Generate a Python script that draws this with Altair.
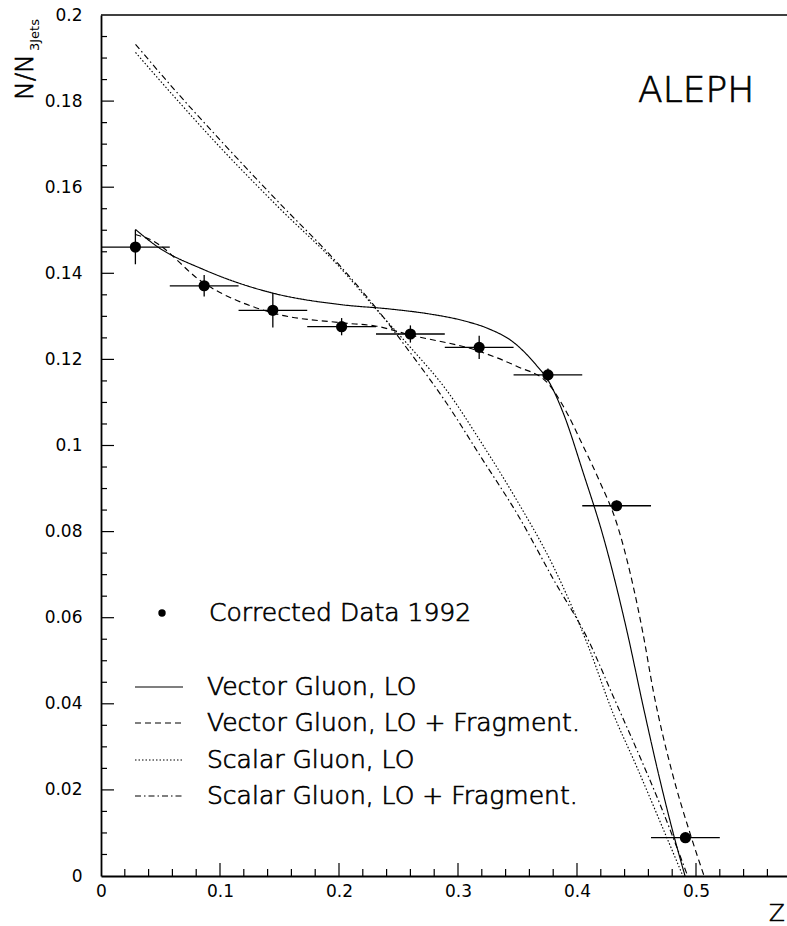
import altair as alt
import pandas as pd

# ---- measured gluon-jet energy spectrum (ALEPH 1992) ----
z_edges = [0.0, 0.0578, 0.1156, 0.1733, 0.2311, 0.2889, 0.3467, 0.4044, 0.4622, 0.52]
z_mid = [0.0289, 0.0867, 0.1444, 0.2022, 0.2600, 0.3178, 0.3756, 0.4333, 0.4911]
ratio = [0.1461, 0.1371, 0.1314, 0.1276, 0.1259, 0.1228, 0.1164, 0.0860, 0.0089]
ratio_err = [0.0040, 0.0025, 0.0040, 0.0020, 0.0020, 0.0027, 0.0015, 0.0012, 0.0008]

# ---- model predictions ----
vec_lo_z = [0.0289, 0.0468, 0.086, 0.1443, 0.2022, 0.243, 0.275, 0.3045, 0.325,
            0.3465, 0.366, 0.3754, 0.3885, 0.4053, 0.4221, 0.4418, 0.4557, 0.4697,
            0.4809, 0.4908]
vec_lo_n = [0.1502, 0.1463, 0.1409, 0.1354, 0.1327, 0.1317, 0.1306, 0.1290, 0.1272,
            0.1240, 0.1186, 0.1153, 0.1075, 0.0936, 0.0788, 0.0571, 0.0393, 0.0223,
            0.0099, 0.0]

vec_frag_z = [0.0289, 0.041, 0.086, 0.1443, 0.2022, 0.2317, 0.2597, 0.3176, 0.3493,
              0.3754, 0.3885, 0.4053, 0.4193, 0.4333, 0.445, 0.4557, 0.4641, 0.480,
              0.495, 0.5068]
vec_frag_n = [0.1490, 0.1479, 0.1378, 0.1308, 0.1285, 0.1277, 0.1257, 0.1219, 0.1184,
              0.1145, 0.1091, 0.0998, 0.0915, 0.0820, 0.0700, 0.0560, 0.0430, 0.0240,
              0.0099, 0.0]

sca_lo_z = [0.029, 0.06, 0.10, 0.15, 0.20, 0.233, 0.26, 0.29, 0.32, 0.35, 0.38,
            0.41, 0.43, 0.45, 0.47, 0.489]
sca_lo_n = [0.1913, 0.1815, 0.1693, 0.1551, 0.1416, 0.1311, 0.1228, 0.1130, 0.1005,
            0.0870, 0.0720, 0.0530, 0.0380, 0.0255, 0.0125, 0.0]

sca_frag_z = [0.029, 0.06, 0.10, 0.15, 0.20, 0.233, 0.26, 0.29, 0.32, 0.35, 0.38,
              0.41, 0.43, 0.45, 0.47, 0.493]
sca_frag_n = [0.1932, 0.1832, 0.1710, 0.1563, 0.1420, 0.1313, 0.1215, 0.1100, 0.0970,
              0.0840, 0.0690, 0.0545, 0.0420, 0.0295, 0.0165, 0.0]

series_labels = ["Vector Gluon, LO", "Vector Gluon, LO + Fragment.",
                 "Scalar Gluon, LO", "Scalar Gluon, LO + Fragment."]
data_label = "Corrected Data 1992"

x_tick_values = [0, 0.1, 0.2, 0.3, 0.4, 0.5]
y_tick_values = [0, 0.02, 0.04, 0.06, 0.08, 0.1, 0.12, 0.14, 0.16, 0.18, 0.2]

# ---- layout ----
W, H = 686, 861
FONT = "DejaVu Sans"
xs = alt.Scale(domain=[0, 686 / 1190], nice=False, zero=False)
ys = alt.Scale(domain=[0, 0.2], nice=False, zero=False)

dashes = [[1, 0], [6, 4], [1.5, 2], [6, 3, 1.5, 3]]
curves = [(vec_lo_z, vec_lo_n), (vec_frag_z, vec_frag_n),
          (sca_lo_z, sca_lo_n), (sca_frag_z, sca_frag_n)]

x_axis = alt.Axis(values=x_tick_values, format="~g", ticks=False, tickSize=0,
                  grid=False, title=None, domainColor="black", domainWidth=1.8,
                  labelFont=FONT, labelFontSize=17, labelColor="black",
                  labelPadding=7, labelFlush=False)
y_axis = alt.Axis(values=y_tick_values, format="~g", ticks=False, tickSize=0,
                  grid=False, title=None, domainColor="black", domainWidth=1.8,
                  labelFont=FONT, labelFontSize=17, labelColor="black",
                  labelPadding=19, labelFlush=False)


def X(field):
    return alt.X(field, scale=xs, axis=x_axis)


def Y(field):
    return alt.Y(field, scale=ys, axis=y_axis)


# thin-stroked text face
thin = dict(font=FONT, fontWeight=300, color="black", stroke="black")

layers = []

# axes carried by an invisible layer
axes_df = pd.DataFrame({"z": [0.0], "n": [0.0]})
layers.append(alt.Chart(axes_df).mark_point(opacity=0).encode(
    x=X("z:Q"), y=Y("n:Q")))

# inward tick marks
x_major = [0.1, 0.2, 0.3, 0.4, 0.5]
x_minor = [round(0.02 * i, 2) for i in range(1, 29) if i % 5 != 0]
y_major = [round(0.02 * i, 2) for i in range(1, 10)]
y_minor = [round(0.005 * i, 3) for i in range(1, 40) if i % 4 != 0]

for vals, ln in ((x_major, 13), (x_minor, 7)):
    layers.append(alt.Chart(pd.DataFrame({"v": vals})).mark_rule(
        color="black", strokeWidth=1.2).encode(
        x=X("v:Q"), y=alt.value(H), y2=alt.value(H - ln)))
for vals, ln in ((y_major, 13), (y_minor, 6)):
    layers.append(alt.Chart(pd.DataFrame({"v": vals})).mark_rule(
        color="black", strokeWidth=1.2).encode(
        y=Y("v:Q"), x=alt.value(0), x2=alt.value(ln)))

# top frame line
layers.append(alt.Chart(pd.DataFrame({"v": [0.2]})).mark_rule(
    color="black", strokeWidth=1.4).encode(
    y=Y("v:Q"), x=alt.value(0), x2=alt.value(W)))

# model curves
for (zz, nn), dash, lab in zip(curves, dashes, series_labels):
    df = pd.DataFrame({"z": zz, "n": nn, "model": lab})
    layers.append(alt.Chart(df).mark_line(
        color="black", strokeWidth=1.15, strokeDash=dash, interpolate="monotone").encode(
        x=X("z:Q"), y=Y("n:Q"), order=alt.Order("z:Q")))

# data with error bars
pts = pd.DataFrame({
    "z": z_mid,
    "zlo": z_edges[:-1],
    "zhi": z_edges[1:],
    "n": ratio,
    "nlo": [v - e for v, e in zip(ratio, ratio_err)],
    "nhi": [v + e for v, e in zip(ratio, ratio_err)],
})
layers.append(alt.Chart(pts).mark_rule(color="black", strokeWidth=1.3).encode(
    x=X("zlo:Q"), x2="zhi:Q", y=Y("n:Q")))
layers.append(alt.Chart(pts).mark_rule(color="black", strokeWidth=1.3).encode(
    x=X("z:Q"), y=Y("nlo:Q"), y2="nhi:Q"))
layers.append(alt.Chart(pts).mark_circle(color="black", opacity=1, size=125).encode(
    x=X("z:Q"), y=Y("n:Q")))

# legend
leg_font = dict(thin, fontSize=25, strokeWidth=0.7, align="left", baseline="middle")
layers.append(alt.Chart(pd.DataFrame({"t": [data_label]})).mark_circle(
    color="black", opacity=1, size=55).encode(x=alt.value(61), y=alt.value(598)))
layers.append(alt.Chart(pd.DataFrame({"t": [data_label]})).mark_text(**leg_font).encode(
    x=alt.value(108), y=alt.value(598), text="t:N"))
for i, (lab, dash) in enumerate(zip(series_labels, dashes)):
    yy = [672, 708, 745, 781][i]
    d = pd.DataFrame({"t": [lab]})
    layers.append(alt.Chart(d).mark_rule(color="black", strokeWidth=1.1,
                                         strokeDash=dash).encode(
        x=alt.value(34), x2=alt.value(82), y=alt.value(yy)))
    layers.append(alt.Chart(d).mark_text(**leg_font).encode(
        x=alt.value(106), y=alt.value(yy), text="t:N"))

# experiment tag
layers.append(alt.Chart(pd.DataFrame({"t": ["ALEPH"]})).mark_text(
    **thin, fontSize=36, strokeWidth=0.7, align="left",
    baseline="alphabetic").encode(x=alt.value(537), y=alt.value(87), text="t:N"))

# axis titles
layers.append(alt.Chart(pd.DataFrame({"t": ["N/N"]})).mark_text(
    **thin, fontSize=25, strokeWidth=0.7, align="left", baseline="alphabetic",
    angle=270).encode(x=alt.value(-68), y=alt.value(85), text="t:N"))
layers.append(alt.Chart(pd.DataFrame({"t": ["3Jets"]})).mark_text(
    font=FONT, fontSize=13, color="black", align="left", baseline="alphabetic",
    angle=270).encode(x=alt.value(-62), y=alt.value(36), text="t:N"))
layers.append(alt.Chart(pd.DataFrame({"t": ["Z"]})).mark_text(
    **thin, fontSize=23, strokeWidth=0.7, align="left",
    baseline="alphabetic").encode(x=alt.value(668), y=alt.value(906), text="t:N"))

chart = alt.layer(*layers).properties(
    width=W, height=H,
    autosize=alt.AutoSizeParams(type="none"),
    padding={"left": 101, "top": 15, "right": 0, "bottom": 50},
    background="white",
).configure_view(stroke=None)

chart.save("out.html", embed_options={"renderer": "svg", "actions": False})
